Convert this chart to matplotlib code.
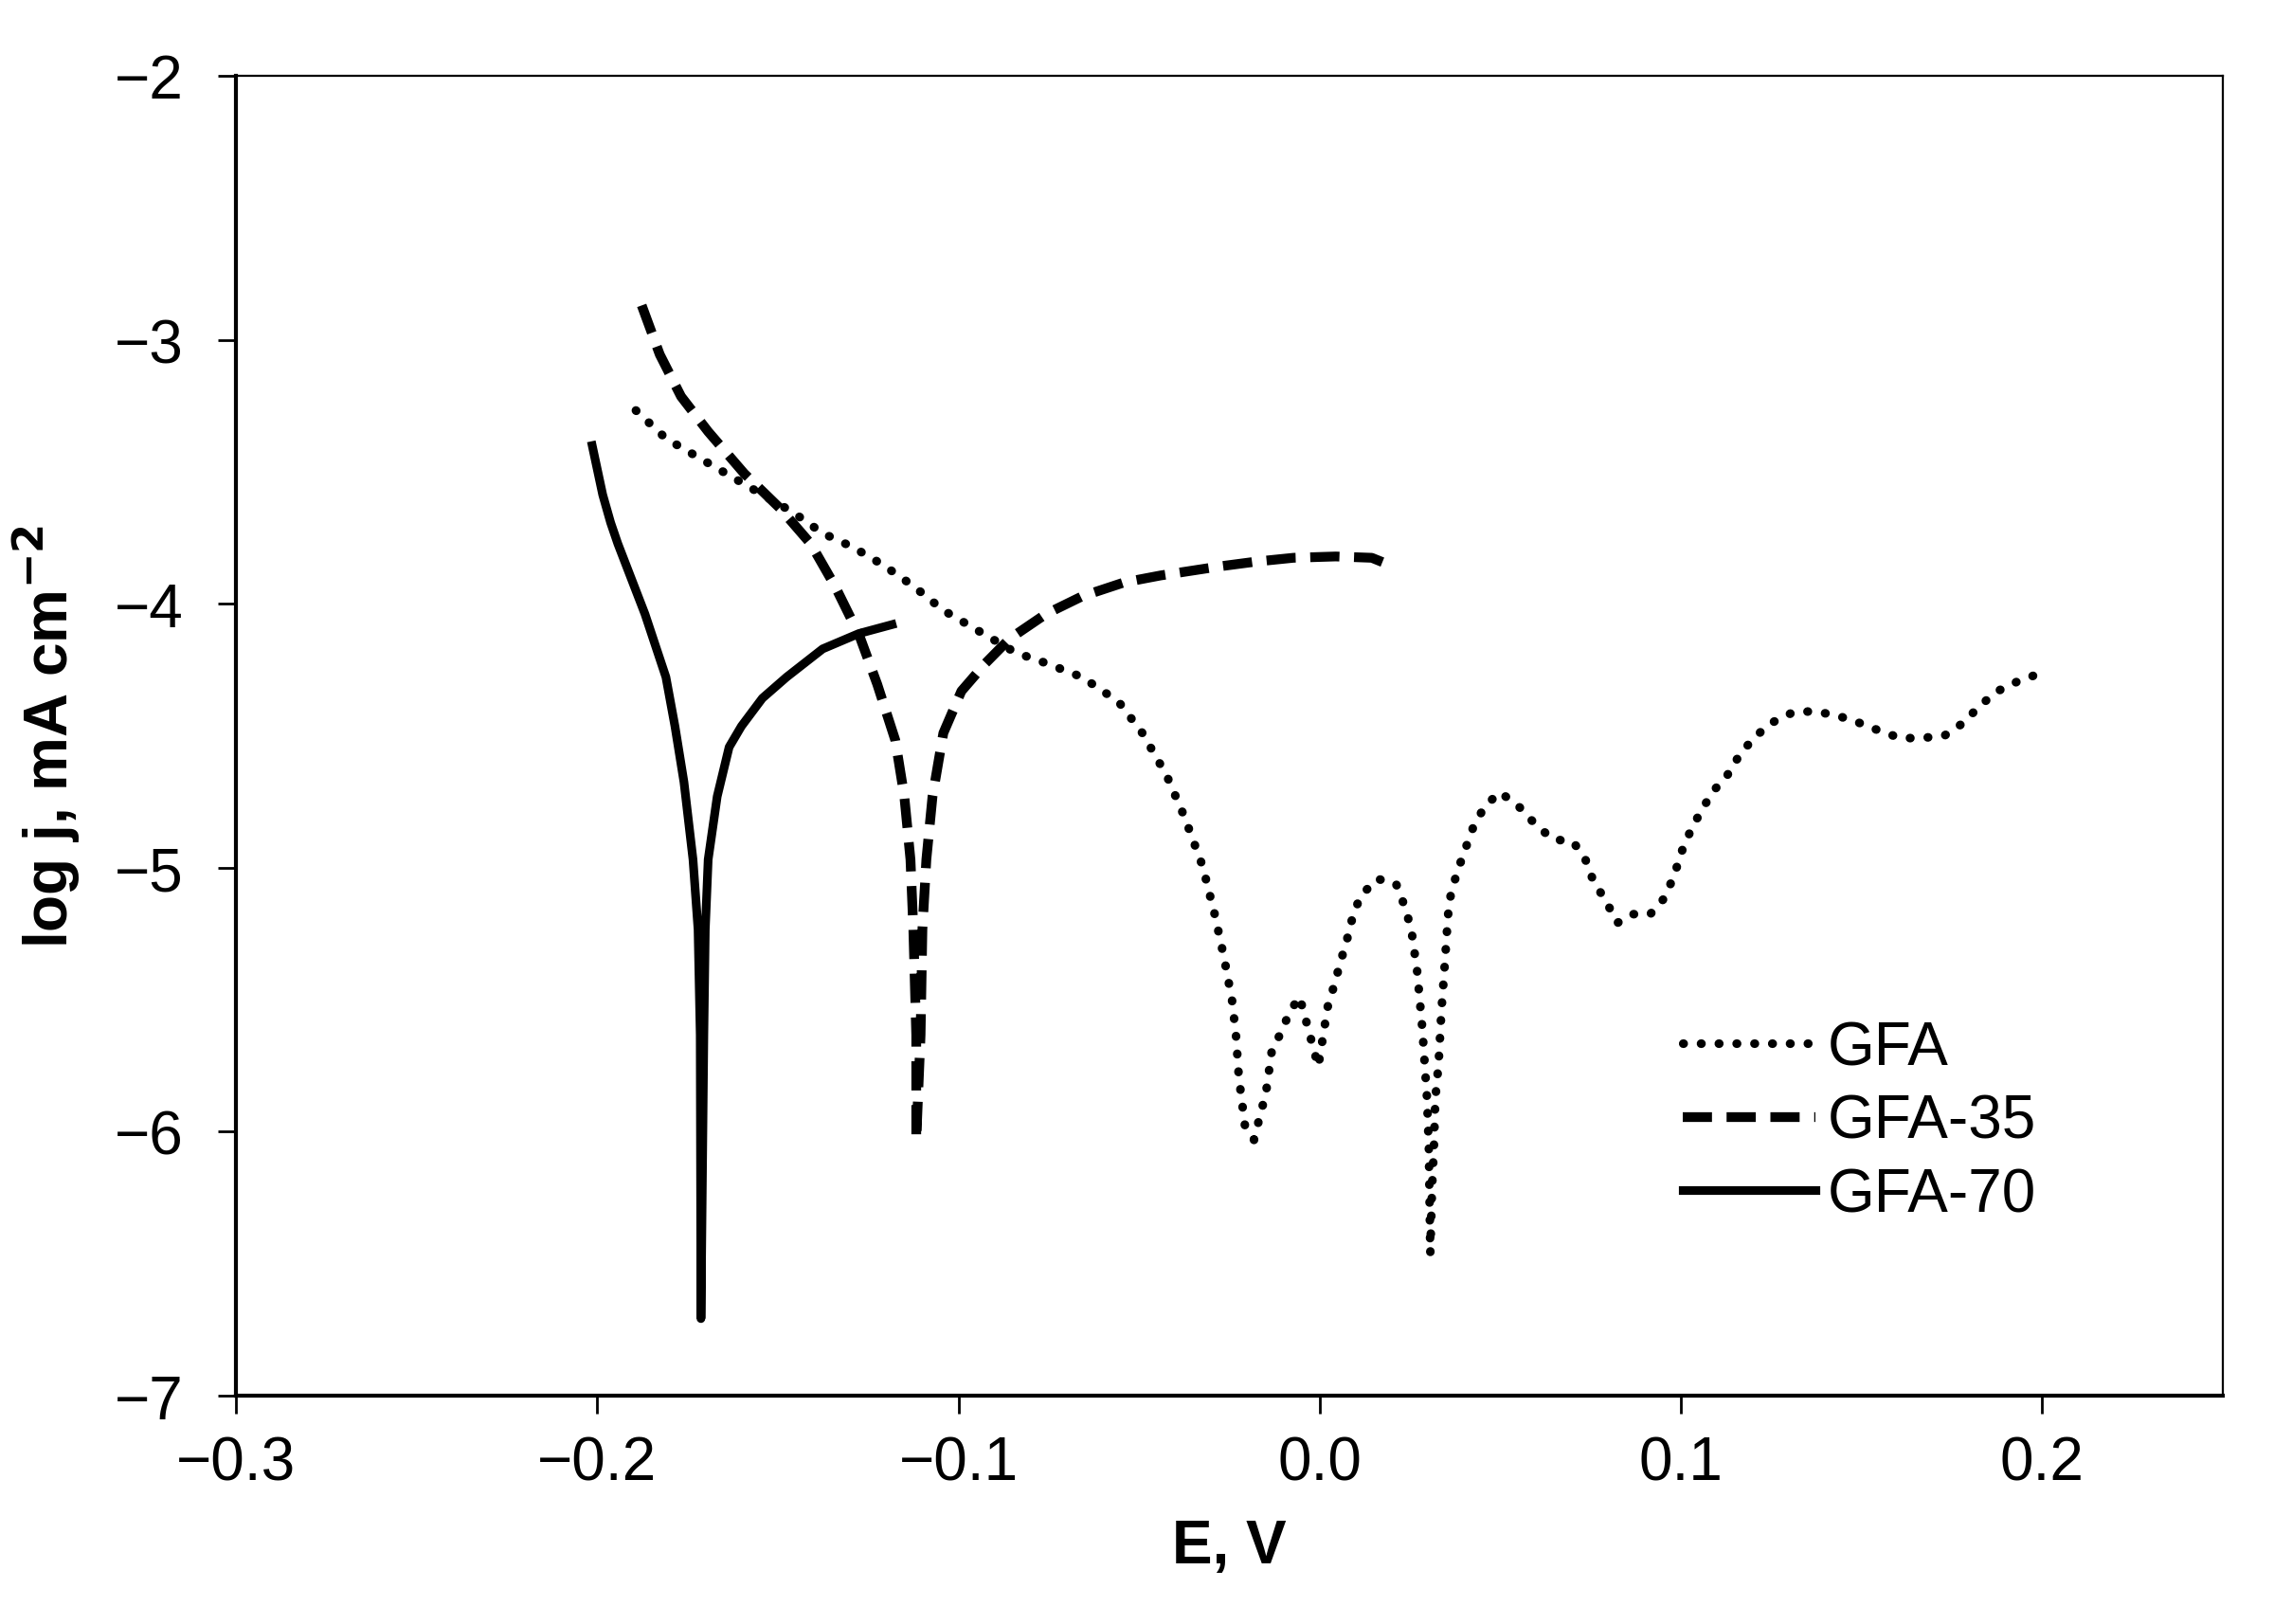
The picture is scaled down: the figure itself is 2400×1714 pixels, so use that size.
import matplotlib
matplotlib.use("Agg")
import matplotlib.pyplot as plt

plt.rcParams['font.family'] = ['Liberation Sans', 'DejaVu Sans']

# GFA (dotted)
e_gfa = [-0.1893, -0.1810, -0.1726, -0.1643, -0.1559, -0.1459, -0.1376, -0.1292, -0.1209, -0.1125,
         -0.1042, -0.0942, -0.0842, -0.0758, -0.0658, -0.0557, -0.0491, -0.0424, -0.0374, -0.0324,
         -0.0290, -0.0265, -0.0243, -0.0232, -0.0224, -0.0207, -0.0182, -0.0167, -0.0149, -0.0132,
         -0.0109, -0.0083, -0.0056, -0.0039, -0.0004, 0.0022, 0.0040, 0.0057, 0.0075, 0.0092,
         0.0113, 0.0159, 0.0211, 0.0232, 0.0253, 0.0270, 0.0284, 0.0297, 0.0302, 0.0306,
         0.0311, 0.0316, 0.0320, 0.0329, 0.0337, 0.0346, 0.0355, 0.0363, 0.0381, 0.0403,
         0.0425, 0.0456, 0.0498, 0.0547, 0.0591, 0.0644, 0.0701, 0.0735, 0.0757, 0.0792,
         0.0824, 0.0866, 0.0915, 0.0954, 0.0982, 0.0999, 0.1024, 0.1055, 0.1090, 0.1129,
         0.1163, 0.1204, 0.1251, 0.1309, 0.1367, 0.1431, 0.1493, 0.1549, 0.1607, 0.1664,
         0.1729, 0.1782, 0.1826, 0.1875, 0.1931, 0.1993]
j_gfa = [-3.268, -3.374, -3.441, -3.507, -3.574, -3.653, -3.733, -3.786, -3.853, -3.933,
         -4.025, -4.105, -4.185, -4.225, -4.278, -4.371, -4.490, -4.650, -4.809, -4.995,
         -5.181, -5.340, -5.500, -5.633, -5.792, -5.978, -6.031, -5.948, -5.854, -5.686,
         -5.630, -5.546, -5.489, -5.574, -5.753, -5.527, -5.445, -5.359, -5.275, -5.181,
         -5.107, -5.042, -5.060, -5.135, -5.229, -5.396, -5.610, -5.874, -6.060, -6.462,
         -6.209, -6.060, -5.874, -5.742, -5.538, -5.368, -5.181, -5.099, -5.014, -4.929,
         -4.846, -4.769, -4.714, -4.762, -4.827, -4.892, -4.901, -4.967, -5.049, -5.126,
         -5.209, -5.176, -5.176, -5.115, -5.027, -4.948, -4.868, -4.786, -4.709, -4.648,
         -4.571, -4.505, -4.451, -4.412, -4.407, -4.423, -4.451, -4.481, -4.509, -4.509,
         -4.500, -4.451, -4.388, -4.332, -4.295, -4.264]

# GFA-35 (dashed)
e_35 = [-0.1877, -0.1827, -0.1768, -0.1693, -0.1593, -0.1493, -0.1409, -0.1342, -0.1275, -0.1225,
        -0.1175, -0.1150, -0.1133, -0.1125, -0.1117, -0.1117, -0.1105, -0.1100, -0.1089, -0.1072,
        -0.1042, -0.0992, -0.0925, -0.0858, -0.0758, -0.0658, -0.0541, -0.0441, -0.0374, -0.0274,
        -0.0174, -0.0073, 0.0044, 0.0144, 0.0202]
j_35 = [-2.870, -3.056, -3.215, -3.348, -3.507, -3.640, -3.773, -3.933, -4.119, -4.305,
        -4.517, -4.730, -4.969, -5.234, -5.633, -6.031, -5.633, -5.234, -4.969, -4.730,
        -4.490, -4.331, -4.225, -4.132, -4.039, -3.972, -3.919, -3.893, -3.879, -3.858,
        -3.840, -3.826, -3.821, -3.826, -3.858]

# GFA-70 (solid)
e_70 = [-0.2014, -0.1985, -0.1963, -0.1943, -0.1868, -0.1810, -0.1785, -0.1760, -0.1735, -0.1721,
        -0.1715, -0.1713, -0.1705, -0.1701, -0.1693, -0.1668, -0.1635, -0.1601, -0.1543, -0.1476,
        -0.1376, -0.1276, -0.1184]
j_70 = [-3.401, -3.587, -3.693, -3.773, -4.039, -4.278, -4.464, -4.676, -4.969, -5.234,
        -5.633, -6.708, -5.633, -5.234, -4.969, -4.730, -4.543, -4.464, -4.358, -4.278,
        -4.171, -4.113, -4.079]

x_ticks = [-0.3, -0.2, -0.1, 0.0, 0.1, 0.2]
y_ticks = [-7, -6, -5, -4, -3, -2]

fig = plt.figure(figsize=(12, 8.575), dpi=200)
ax = fig.add_axes([0.1038, 0.1405, 0.8737, 0.8123])

ax.plot(e_gfa, j_gfa, c='black', lw=3.3, linestyle=(0, (0.05, 2.0)),
        dash_capstyle='round', solid_capstyle='round', label='GFA')
ax.plot(e_35, j_35, c='black', lw=3.7, linestyle=(0, (3.0, 1.5)),
        dash_capstyle='butt', label='GFA-35')
ax.plot(e_70, j_70, c='black', lw=3.3, solid_joinstyle='round', label='GFA-70')

ax.set_xlim(-0.3, 0.25)
ax.set_ylim(-7, -2)
ax.set_xticks(x_ticks)
ax.set_xticklabels([f"{v:.1f}".replace('-', '\u2212') for v in x_ticks])
ax.set_yticks(y_ticks)
ax.set_yticklabels([f"\u2212{abs(v)}" for v in y_ticks])

ax.tick_params(axis='both', direction='out', length=7, width=1.0, labelsize=23)
ax.tick_params(axis='x', pad=8)
ax.tick_params(axis='y', pad=13)

ax.spines['left'].set_linewidth(1.5)
ax.spines['bottom'].set_linewidth(1.5)
ax.spines['top'].set_linewidth(0.8)
ax.spines['right'].set_linewidth(0.8)

ax.set_xlabel("E, V", fontsize=23, fontweight='bold', labelpad=10)
ax.set_ylabel("log j, mA cm$^{\\mathbf{-2}}$", fontsize=23, fontweight='bold', labelpad=12)

ax.legend(loc='upper left', bbox_to_anchor=(0.728, 0.285), frameon=False, fontsize=23,
          handlelength=2.2, handletextpad=0.2, labelspacing=0.28, borderaxespad=0, borderpad=0)

fig.savefig("out.png", dpi=200)
